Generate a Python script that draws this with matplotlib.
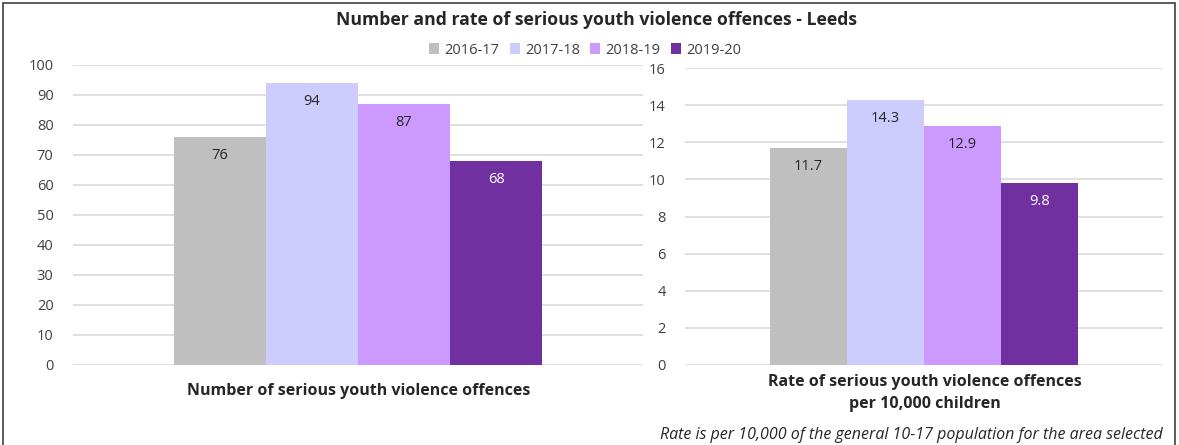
import matplotlib
matplotlib.use("Agg")
import matplotlib.pyplot as plt
from matplotlib.patches import Rectangle, Patch

plt.rcParams['font.family'] = ['Open Sans', 'DejaVu Sans']

years = ["2016-17", "2017-18", "2018-19", "2019-20"]
counts = [76, 94, 87, 68]
rates = [11.7, 14.3, 12.9, 9.8]
colors = ["#BFBFBF", "#CCCCFF", "#CC99FF", "#7030A0"]
label_colors = ["#262626", "#262626", "#262626", "#FFFFFF"]
count_ticks = list(range(0, 101, 10))
rate_ticks = list(range(0, 17, 2))

W, H = 1179, 445
fig = plt.figure(figsize=(W / 100, H / 100), dpi=100)

def ax_rect(x0, x1, y0, y1):
    return [x0 / W, 1 - y1 / H, (x1 - x0) / W, (y1 - y0) / H]

ax1 = fig.add_axes(ax_rect(73, 643, 65, 365))
ax2 = fig.add_axes(ax_rect(685, 1163, 68, 365))

bw = 0.1615
offsets = [(i - 1.5) * bw for i in range(4)]

def draw(ax, vals, ticks, fmt, ymax, off_frac):
    ax.bar(offsets, vals, width=bw, color=colors, zorder=3)
    ax.set_xlim(-0.5, 0.5)
    ax.set_ylim(0, ymax)
    ax.set_yticks(ticks)
    ax.yaxis.grid(True, color="#D9D9D9", linewidth=1.2, zorder=0)
    ax.set_xticks([])
    for s in ax.spines.values():
        s.set_visible(False)
    ax.tick_params(axis='y', length=0, labelsize=10.5, labelcolor="#404040", pad=14)
    for x, v, c in zip(offsets, vals, label_colors):
        ax.text(x, v - ymax * off_frac, fmt.format(v), ha='center', va='center',
                fontsize=10.5, color=c, zorder=4)

draw(ax1, counts, count_ticks, "{:d}", 100, 0.063)
draw(ax2, rates, rate_ticks, "{:.1f}", 16, 0.063)

fig.text(597 / W, 1 - 20 / H, "Number and rate of serious youth violence offences - Leeds",
         ha='center', va='center', fontsize=12.7, fontweight='bold', color="#262626")

handles = [Patch(facecolor=c, edgecolor='none') for c in colors]
fig.legend(handles, years, loc='center', bbox_to_anchor=(585 / W, 1 - 50 / H), ncol=4,
           frameon=False, fontsize=10.5, handlelength=0.7, handleheight=0.7,
           handletextpad=0.35, columnspacing=0.7, labelcolor="#404040")

fig.text(359 / W, 1 - 391 / H, "Number of serious youth violence offences",
         ha='center', va='center', fontsize=11.5, fontweight='bold', color="#262626")
fig.text(925 / W, 1 - 393 / H, "Rate of serious youth violence offences\nper 10,000 children",
         ha='center', va='center', fontsize=11.5, fontweight='bold', color="#262626",
         linespacing=1.5)
fig.text(1163 / W, 1 - 435 / H, "Rate is per 10,000 of the general 10-17 population for the area selected",
         ha='right', va='center', fontsize=11.5, style='italic', color="#262626")

fig.patches.append(Rectangle((3 / W, -0.01), 1172 / W, 1 - 3 / H + 0.01,
                             transform=fig.transFigure, fill=False,
                             edgecolor="#404040", linewidth=1.2))

fig.savefig("out.png", dpi=100)
